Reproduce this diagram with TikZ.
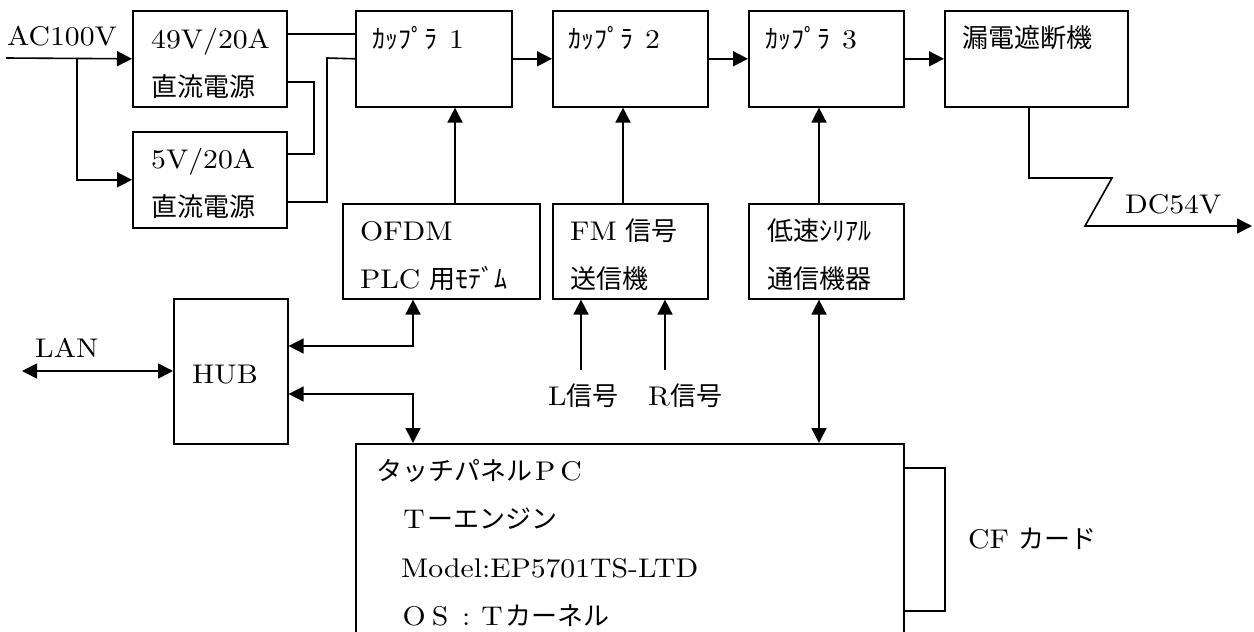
\documentclass[tikz,border=0pt]{standalone}
\usepackage{fontspec}
\usepackage{graphicx}
\setmainfont{lmroman10-regular.otf}
\newfontfamily\jpfam{Noto Sans CJK JP}
\usetikzlibrary{arrows.meta}
% Latin text is set wide, Japanese text in a CJK family, full-width Latin in fixed cells
\newcommand\lsz{\fontsize{27}{31}\selectfont}
\newcommand\Lat[1]{\scalebox{1.1}[1]{#1}}
\newcommand\J[1]{{\jpfam\fontsize{26}{30}\selectfont #1}}
\newcommand\W[1]{\makebox[26pt]{\Lat{#1}}}
\begin{document}
\begin{tikzpicture}[x=1pt,y=-1pt,
  box/.style={draw, line width=1.6pt, inner sep=0pt, anchor=north west},
  txt/.style={inner sep=0pt, anchor=base west, font=\lsz},
  wire/.style={line width=1.6pt},
  fwd/.style={wire, -{Triangle[length=15pt,width=15pt]}},
  both/.style={wire, {Triangle[length=15pt,width=15pt]}-{Triangle[length=15pt,width=15pt]}}]
\useasboundingbox (0,0) rectangle (1254,632);
\clip (0,0) rectangle (1254,632);

% blocks
\node[box, minimum width=154pt, minimum height=96pt] (ps49) at (132,10) {};
\node[box, minimum width=154pt, minimum height=96pt] (ps5) at (132,131) {};
\node[box, minimum width=156pt, minimum height=96pt] (c1) at (355,10) {};
\node[box, minimum width=155pt, minimum height=96pt] (c2) at (552,10) {};
\node[box, minimum width=155pt, minimum height=96pt] (c3) at (748,10) {};
\node[box, minimum width=183pt, minimum height=96pt] (elcb) at (944,10) {};
\node[box, minimum width=197pt, minimum height=95pt] (ofdm) at (342,203) {};
\node[box, minimum width=155pt, minimum height=95pt] (fm) at (552,203) {};
\node[box, minimum width=155pt, minimum height=95pt] (ser) at (748,203) {};
\node[box, minimum width=114pt, minimum height=145pt] (hub) at (173,298) {};
\node[box, minimum width=548pt, minimum height=260pt] (pc) at (355,443) {};
\node[box, minimum width=41pt, minimum height=143pt] (cf) at (903,467) {};

% labels
\node[txt] (tac) at (7,45) {\Lat{AC100V}};
\node[txt] (t49a) at (151,48) {\Lat{49V/20A}};
\node[txt] (t49b) at (151,96) {\J{直流電源}};
\node[txt] (t5a) at (151,168) {\Lat{5V/20A}};
\node[txt] (t5b) at (151,216) {\J{直流電源}};
\node[txt] (tc1) at (372,48) {\J{ｶｯﾌﾟﾗ}\hspace{12pt}\Lat{1}};
\node[txt] (tc2) at (568,48) {\J{ｶｯﾌﾟﾗ}\hspace{12pt}\Lat{2}};
\node[txt] (tc3) at (765,48) {\J{ｶｯﾌﾟﾗ}\hspace{12pt}\Lat{3}};
\node[txt] (telcb) at (962,47) {\J{漏電遮断機}};
\node[txt] (tofa) at (360,240) {\Lat{OFDM}};
\node[txt] (tofb) at (360,288) {\Lat{PLC} \J{用ﾓﾃﾞﾑ}};
\node[txt] (tfma) at (570,240) {\Lat{FM} \J{信号}};
\node[txt] (tfmb) at (570,288) {\J{送信機}};
\node[txt] (tsera) at (767,240) {\J{低速ｼﾘｱﾙ}};
\node[txt] (tserb) at (767,288) {\J{通信機器}};
\node[txt] (thub) at (192,383) {\Lat{HUB}};
\node[txt] (tlan) at (35,357) {\Lat{LAN}};
\node[txt] (lsig) at (548,405) {\Lat{L}\J{信号}};
\node[txt] (rsig) at (648,405) {\Lat{R}\J{信号}};
\node[txt] (tdc) at (1125,213) {\Lat{DC54V}};
\node[txt] (tcf) at (968,548) {\Lat{CF} \J{カード}};
\node[txt] (tp1) at (376,480) {\J{タッチパネル}\W{P}\W{C}};
\node[txt] (tp2) at (401,528) {\W{T}\J{ーエンジン}};
\node[txt] (tp3) at (401,577) {\Lat{Model:EP5701TS-LTD}};
\node[txt] (tp4) at (401,625) {\W{O}\W{S}\W{:}\W{T}\J{カーネル}};

% free ends
\coordinate (acin) at (6,58);
\coordinate (acsplit) at (77,58);
\coordinate (dcout) at (1252,226);
\coordinate (lanend) at (22,371);
\coordinate (lin) at (581,370);
\coordinate (rin) at (665,370);

% power feed
\draw[fwd] (acin) -- (ps49.west);
\draw[fwd] (acsplit) |- (ps5.west);
\draw[wire] (ps49.east |- 0,34) -- (c1.west |- 0,34);
\draw[wire] (ps49.east |- 0,82) -| (314,154) -- (ps5.east |- 0,154);
\draw[wire] (ps5.east |- 0,202) -| (327,58) -- (c1.west);

% coupler chain
\draw[fwd] (c1.east) -- (c2.west);
\draw[fwd] (c2.east) -- (c3.west);
\draw[fwd] (c3.east) -- (elcb.west);
\draw[fwd] (elcb.south -| 1029,0) |- (1112,178) -- (1085,226) -- (dcout);

% signal sources into couplers
\draw[fwd] (ofdm.north -| 455,0) -- (c1.south -| 455,0);
\draw[fwd] (fm.north -| 623,0) -- (c2.south -| 623,0);
\draw[fwd] (ser.north -| 819,0) -- (c3.south -| 819,0);
\draw[fwd] (lin) -- (fm.south -| 581,0);
\draw[fwd] (rin) -- (fm.south -| 665,0);

% data links
\draw[both] (lanend) -- (hub.west |- 0,371);
\draw[both] (hub.east |- 0,346) -| (ofdm.south -| 413,0);
\draw[both] (hub.east |- 0,394) -| (pc.north -| 413,0);
\draw[both] (ser.south -| 819,0) -- (pc.north -| 819,0);
\end{tikzpicture}
\end{document}
